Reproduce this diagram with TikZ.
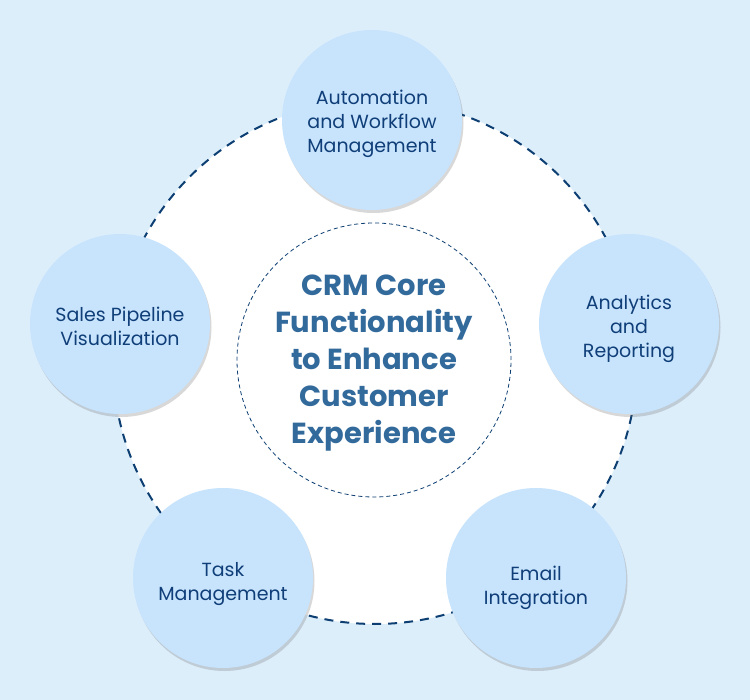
\documentclass[tikz,border=0pt]{standalone}
\usepackage{fontspec}
\setmainfont{Poppins}
\usetikzlibrary{shadows}
\definecolor{bgblue}{HTML}{DDEEFB}
\definecolor{nodefill}{HTML}{C8E4FD}
\definecolor{nodetext}{HTML}{0F3E78}
\definecolor{centertext}{HTML}{336A9C}
\definecolor{dashblue}{HTML}{0D3F73}
\tikzset{
  featnode/.style={circle, minimum size=180pt, inner sep=0pt, fill=nodefill,
    drop shadow={shadow xshift=1.5pt, shadow yshift=-3pt, opacity=0.25, fill=black!60}},
  feattext/.style={text=nodetext, align=center, font=\fontsize{19}{24}\selectfont},
  outerring/.style={circle, minimum size=524pt, inner sep=0pt, fill=white,
    draw=dashblue, line width=2pt, dash pattern=on 9pt off 7pt},
  innerring/.style={circle, minimum size=274pt, inner sep=0pt,
    draw=dashblue, line width=0.8pt, dash pattern=on 4pt off 3pt},
  coretextstyle/.style={text=centertext, align=center, font=\bfseries\fontsize{29}{37}\selectfont}
}
\begin{document}
\begin{tikzpicture}[x=1pt,y=-1pt]
\fill[bgblue] (0,0) rectangle (750,700);
\useasboundingbox (0,0) rectangle (750,700);
\node[outerring] (ring) at (375,362) {};
\node[innerring] (core) at (374,360) {};
\node[coretextstyle] (coretext) at (374,363) {CRM Core\\Functionality\\to Enhance\\Customer\\Experience};
\node[featnode] (auto) at (372,120) {};
\node[feattext] (autot) at (372,124) {Automation\\and Workflow\\Management};
\node[featnode] (sales) at (120,324) {};
\node[feattext] (salest) at (120,326) {Sales Pipeline\\Visualization};
\node[featnode] (analytics) at (629,324) {};
\node[feattext] (analyticst) at (629,329) {Analytics\\and\\Reporting};
\node[featnode] (task) at (223,578) {};
\node[feattext] (taskt) at (223,584) {Task\\Management};
\node[featnode] (email) at (536,578) {};
\node[feattext] (emailt) at (536,588) {Email\\Integration};
\end{tikzpicture}
\end{document}
